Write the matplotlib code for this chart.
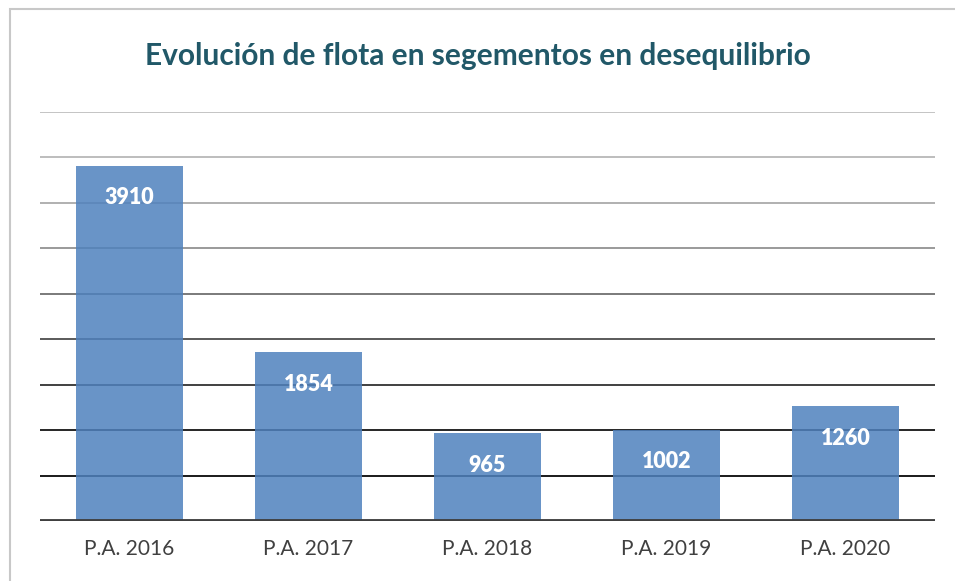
import matplotlib.pyplot as plt
from matplotlib.patches import Rectangle

categories = ["P.A. 2016", "P.A. 2017", "P.A. 2018", "P.A. 2019", "P.A. 2020"]
values = [3910, 1854, 965, 1002, 1260]
grid_levels = [500, 1000, 1500, 2000, 2500, 3000, 3500, 4000, 4500]
grid_colors = ["#1a1a1a", "#262626", "#404040", "#5a5a5a", "#7a7a7a",
               "#9a9a9a", "#b0b0b0", "#bdbdbd", "#c4c4c4"]

fig = plt.figure(figsize=(9.55, 5.81), dpi=100)
fig.patches.append(Rectangle((10 / 955, -0.2), 1.2, 1.2 - 9 / 581, transform=fig.transFigure,
                             fill=False, edgecolor="#c8c8c8", linewidth=1.5))

ax = fig.add_axes([40 / 955, (581 - 521) / 581, 895 / 955, (521 - 112) / 581])

for lvl, c in zip(grid_levels, grid_colors):
    ax.axhline(lvl, color=c, linewidth=1.4, zorder=1)

x = range(len(categories))
ax.bar(x, values, width=0.6, color="#4f81bd", alpha=0.85, zorder=2)
ax.axhline(0, color="#404040", linewidth=3.5, zorder=3)

for xi, v in zip(x, values):
    ax.annotate(str(v), (xi, v), xytext=(0, -23), textcoords="offset points",
                ha="center", va="center", color="white", fontsize=15.5,
                fontweight="heavy", family="Lato", zorder=4)

ax.set_xlim(-0.5, 4.5)
ax.set_ylim(0, 4500)
ax.set_xticks(list(x))
ax.set_xticklabels(categories, fontsize=15, color="#404040", family="Lato")
ax.tick_params(axis="x", length=0, pad=13)
ax.set_yticks([])
for s in ax.spines.values():
    s.set_visible(False)

fig.text(0.5, 1 - 56 / 581, "Evolución de flota en segementos en desequilibrio",
         ha="center", va="center", fontsize=21.5, fontweight="bold",
         color="#215868", family="Lato")

plt.savefig("out.png", dpi=100)
